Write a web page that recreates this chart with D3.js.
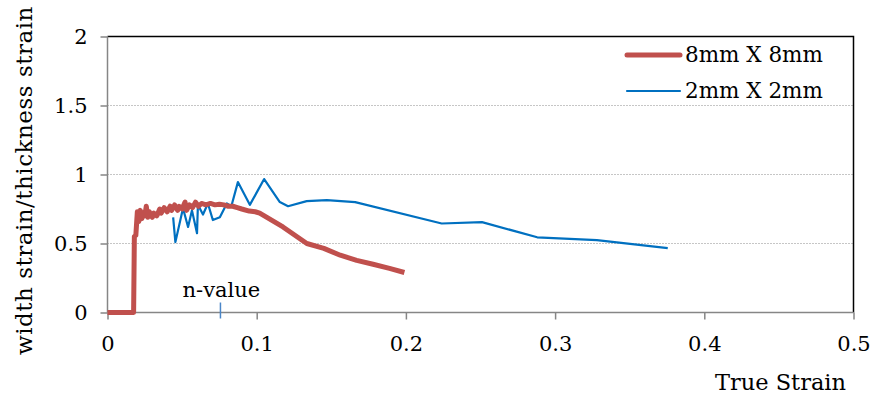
<!DOCTYPE html>
<html>
<head>
<meta charset="utf-8">
<script src="https://cdn.jsdelivr.net/npm/d3@7"></script>
<style>
body { margin: 0; background: #fff; }
svg { display: block; font-family: "DejaVu Serif", serif; }
</style>
</head>
<body>
<svg id="chart" width="872" height="398"></svg>
<script>
// data
var xTicks = [0, 0.1, 0.2, 0.3, 0.4, 0.5];
var yTicks = [0, 0.5, 1, 1.5, 2];
var seriesNames = ["8mm X 8mm", "2mm X 2mm"];

var bigX = [0, 0.0175, 0.018, 0.019, 0.020, 0.021, 0.022, 0.023, 0.024, 0.025, 0.026, 0.027, 0.028, 0.030,
            0.031, 0.033, 0.035, 0.036, 0.038, 0.040, 0.042, 0.043, 0.045, 0.047, 0.048, 0.050, 0.052,
            0.053, 0.055, 0.057, 0.059, 0.061, 0.063, 0.066, 0.069, 0.072, 0.075, 0.078, 0.081, 0.084,
            0.087, 0.090, 0.095, 0.099, 0.102, 0.1176, 0.1336, 0.145, 0.156, 0.167, 0.178, 0.189, 0.199];
var bigY = [0, 0, 0.55, 0.56, 0.73, 0.66, 0.74, 0.68, 0.72, 0.70, 0.77, 0.69, 0.73, 0.69,
            0.72, 0.70, 0.75, 0.72, 0.76, 0.73, 0.77, 0.74, 0.78, 0.74, 0.77, 0.75, 0.80,
            0.74, 0.78, 0.76, 0.80, 0.77, 0.79, 0.78, 0.79, 0.78, 0.785, 0.78, 0.77, 0.77,
            0.76, 0.75, 0.735, 0.73, 0.72, 0.62, 0.50, 0.465, 0.415, 0.378, 0.35, 0.32, 0.29];

var smallX = [0.044, 0.0455, 0.0506, 0.054, 0.0566, 0.060, 0.0606, 0.064, 0.0673, 0.0706, 0.0753, 0.080,
              0.083, 0.0874, 0.0954, 0.105, 0.1155, 0.121, 0.1335, 0.147, 0.166, 0.224, 0.251, 0.288,
              0.328, 0.3755];
var smallY = [0.69, 0.51, 0.755, 0.62, 0.74, 0.575, 0.78, 0.71, 0.79, 0.67, 0.69, 0.79,
              0.77, 0.945, 0.78, 0.967, 0.80, 0.77, 0.807, 0.815, 0.80, 0.645, 0.655, 0.545,
              0.524, 0.466];

var nValue = 0.0757;

var svg = d3.select("#chart");
var padL = 107.5, padR = 853.5, padT = 36.5, padB = 312.5;

var x = d3.scaleLinear().domain([0, 0.5]).range([padL, padR]);
var y = d3.scaleLinear().domain([0, 2]).range([padB, padT]);

// gridlines
svg.append("g")
   .selectAll("line")
   .data(yTicks.filter(function(d){ return d > 0 && d < 2; }))
   .enter()
   .append("line")
   .attr("x1", padL).attr("x2", padR)
   .attr("y1", function(d){ return y(d); })
   .attr("y2", function(d){ return y(d); })
   .attr("stroke", "#8c8c8c")
   .attr("stroke-width", 1)
   .attr("stroke-dasharray", "1,2");

// top and right border
svg.append("path")
   .attr("d", "M" + padL + "," + padT + "H" + padR + "V" + padB)
   .attr("fill", "none")
   .attr("stroke", "#000")
   .attr("stroke-width", 1.5);

// axes
var xAxis = svg.append("g")
   .attr("transform", "translate(0," + padB + ")")
   .call(d3.axisBottom(x).tickValues(xTicks).tickSize(7).tickPadding(17).tickFormat(d3.format("")));
var yAxis = svg.append("g")
   .attr("transform", "translate(" + padL + ",0)")
   .call(d3.axisLeft(y).tickValues(yTicks).tickSize(7).tickPadding(13).tickFormat(d3.format("")));

[xAxis, yAxis].forEach(function(a){
    a.select(".domain").attr("stroke", "#868686").attr("stroke-width", 1.5);
    a.selectAll(".tick line").attr("stroke", "#868686").attr("stroke-width", 1.5);
    a.selectAll("text").attr("fill", "#000").style("font-size", "21px").style("font-family", "DejaVu Serif");
});
xAxis.select(".domain").attr("d", "M" + padL + ",0H" + padR);
yAxis.select(".domain").attr("d", "M0," + padB + "V" + padT);

// n-value marker
svg.append("line")
   .attr("x1", x(nValue)).attr("x2", x(nValue))
   .attr("y1", padB - 10).attr("y2", padB + 6)
   .attr("stroke", "#4a86c8")
   .attr("stroke-width", 1.5);
svg.append("text")
   .attr("x", x(nValue) + 1).attr("y", 297)
   .attr("text-anchor", "middle")
   .style("font-size", "21px")
   .text("n-value");

// lines
var line = d3.line()
   .x(function(d){ return x(d[0]); })
   .y(function(d){ return y(d[1]); });

var bigData = d3.zip(bigX, bigY);
var smallData = d3.zip(smallX, smallY);

svg.append("path")
   .datum(smallData)
   .attr("d", line)
   .attr("fill", "none")
   .attr("stroke", "#0070C0")
   .attr("stroke-width", 2.2)
   .attr("stroke-linejoin", "round");

svg.append("path")
   .datum(bigData)
   .attr("d", line)
   .attr("fill", "none")
   .attr("stroke", "#C0504D")
   .attr("stroke-width", 5)
   .attr("stroke-linejoin", "round");

// legend
var legend = svg.append("g");
var colors = ["#C0504D", "#0070C0"];
var widths = [5, 2.2];
seriesNames.forEach(function(name, i){
    var ly = 55 + i * 36;
    legend.append("line")
       .attr("x1", 627).attr("x2", 680)
       .attr("y1", ly).attr("y2", ly)
       .attr("stroke", colors[i])
       .attr("stroke-width", widths[i])
       .attr("stroke-linecap", "round");
    legend.append("text")
       .attr("x", 685).attr("y", ly + 7)
       .style("font-size", "21.5px")
       .text(name);
});

// axis titles
svg.append("text")
   .attr("x", 846).attr("y", 390)
   .attr("text-anchor", "end")
   .style("font-size", "22.5px")
   .text("True Strain");

svg.append("text")
   .attr("transform", "translate(32,355) rotate(-90)")
   .attr("text-anchor", "start")
   .style("font-size", "23px")
   .style("letter-spacing", "0.5px")
   .text("width strain/thickness strain");
</script>
</body>
</html>
